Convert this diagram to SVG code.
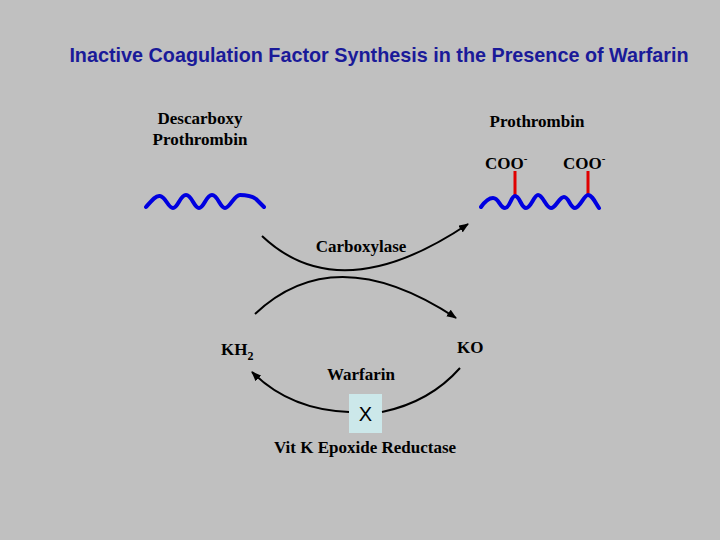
<svg xmlns="http://www.w3.org/2000/svg" width="720" height="540" viewBox="0 0 720 540">
<defs>
<marker id="ah" markerWidth="10" markerHeight="8" refX="9" refY="4" orient="auto" markerUnits="userSpaceOnUse"><path d="M0,0 L10,4 L0,8 z" fill="#000"/></marker>
<style>
.t{font-family:"Liberation Serif",serif;font-weight:bold;font-size:17px;fill:#000}
.w{fill:none;stroke:#0000e0;stroke-width:4;stroke-linecap:round;stroke-linejoin:round}
.a{fill:none;stroke:#000;stroke-width:2}
</style>
</defs>
<rect width="720" height="540" fill="#c0c0c0"/>
<text x="379" y="62" text-anchor="middle" font-family="Liberation Sans,sans-serif" font-weight="bold" font-size="19.8" fill="#1a1a99">Inactive Coagulation Factor Synthesis in the Presence of Warfarin</text>
<g id="descarboxy"><text class="t" x="200" y="124" text-anchor="middle">Descarboxy</text><text class="t" x="200" y="145" text-anchor="middle">Prothrombin</text>
<path class="w" d="M146,207 C152,200 156,195 160,196 C166,197 168,208 173,208 C178,208 180,195 186,195 C192,195 194,208 199,208 C204,208 206,195 212,195 C218,195 220,208 225,208 C230,208 234,195 240,195 C247,195 252,196 256,199 L264,207"/></g>
<g id="prothrombin"><text class="t" x="537" y="127" text-anchor="middle">Prothrombin</text>
<text class="t" x="485" y="169">COO<tspan font-size="11" dy="-7">-</tspan></text>
<text class="t" x="563" y="169">COO<tspan font-size="11" dy="-7">-</tspan></text>
<line x1="515" y1="171" x2="515" y2="197" stroke="#e00000" stroke-width="3"/>
<line x1="588" y1="171" x2="588" y2="194" stroke="#e00000" stroke-width="3"/>
<path class="w" d="M481,207 C486,200 489,198 493,198 C499,198 500,208 505,208 C510,208 511,196 515,196 C520,196 521,208 526,208 C531,208 534,195 538,195 C543,195 546,208 551,208 C556,208 559,197 564,197 C569,197 570,208 575,208 C580,208 584,195 588,195 C592,195 595,202 599,208"/></g>
<g id="labels"><text class="t" x="361" y="252" text-anchor="middle">Carboxylase</text>
<text class="t" x="221" y="355">KH<tspan font-size="12" dy="5">2</tspan></text>
<text class="t" x="457" y="353">KO</text>
<text class="t" x="361" y="380" text-anchor="middle">Warfarin</text>
<text class="t" x="365" y="453" text-anchor="middle">Vit K Epoxide Reductase</text></g>
<g id="x"><rect x="349" y="394" width="33" height="39" fill="#cce8ea"/><text x="365.5" y="421" text-anchor="middle" font-family="Liberation Sans,sans-serif" font-size="20" fill="#000">X</text></g>
<g id="connectors">
<path class="a" d="M262,236 Q340,310 468,224" marker-end="url(#ah)"/>
<path class="a" d="M255,314 Q335,238 456,318" marker-end="url(#ah)"/>
<path class="a" d="M460,368 Q430,402 382,412 M349,412 Q290,410 252,372" marker-end="url(#ah)"/>
</g>
</svg>
